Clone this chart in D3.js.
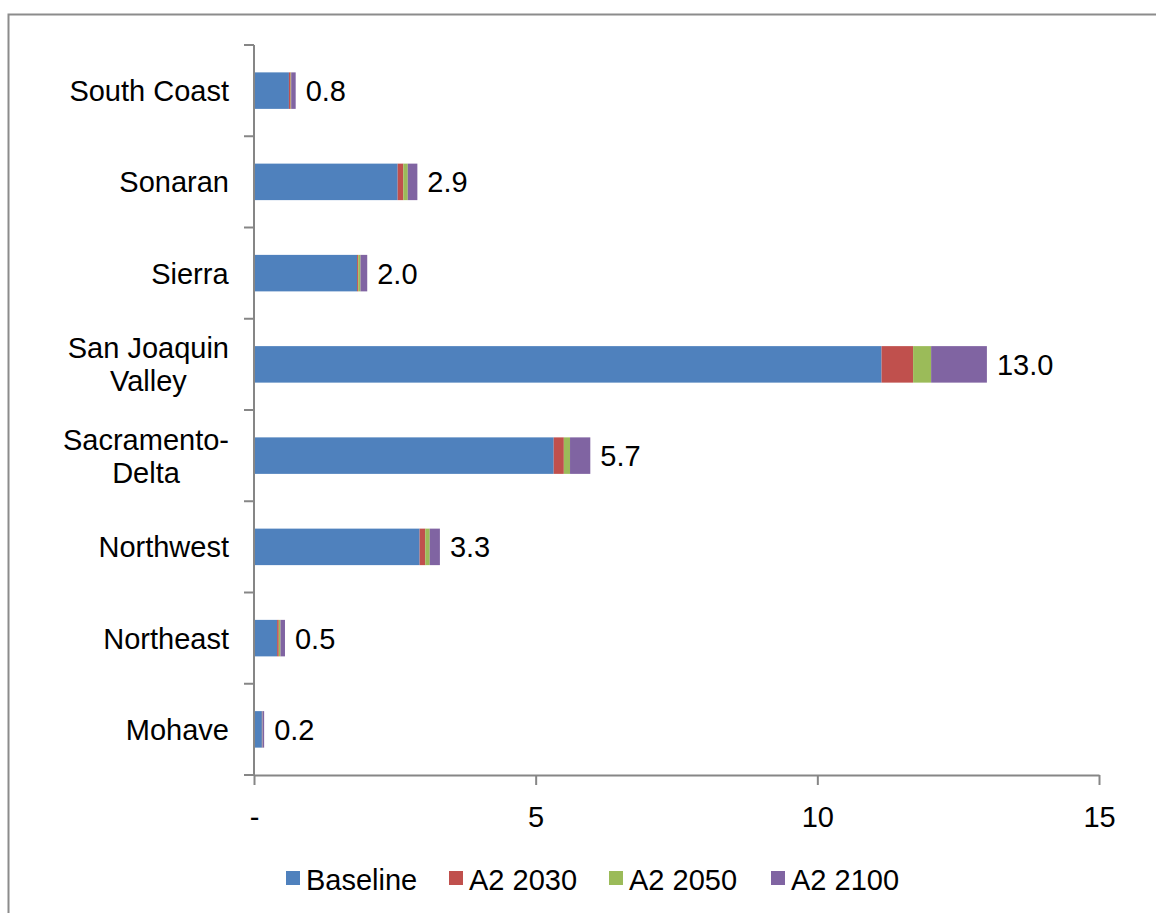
<!DOCTYPE html>
<html>
<head>
<meta charset="utf-8">
<script src="https://cdn.jsdelivr.net/npm/d3@7"></script>
<style>
  html, body { margin: 0; padding: 0; background: #fff; }
  svg { display: block; font-family: "Liberation Sans", Arial, sans-serif; }
</style>
</head>
<body>
<svg id="chart" width="1156" height="913"></svg>
<script>
// Categories (top to bottom as shown)
const categories = ["South Coast", "Sonaran", "Sierra", "San Joaquin Valley", "Sacramento-Delta", "Northwest", "Northeast", "Mohave"];
const categoryLines = [["South Coast"], ["Sonaran"], ["Sierra"], ["San Joaquin", "Valley"], ["Sacramento-", "Delta"], ["Northwest"], ["Northeast"], ["Mohave"]];
const seriesNames = ["Baseline", "A2 2030", "A2 2050", "A2 2100"];
const baseline = [0.62, 2.55, 1.83, 11.14, 5.32, 2.94, 0.41, 0.14];
const a2_2030  = [0.03, 0.10, 0.02, 0.56, 0.18, 0.10, 0.03, 0.005];
const a2_2050  = [0.01, 0.08, 0.04, 0.32, 0.11, 0.08, 0.03, 0.005];
const a2_2100  = [0.08, 0.17, 0.12, 0.99, 0.36, 0.18, 0.08, 0.03];
const totalLabels = ["0.8", "2.9", "2.0", "13.0", "5.7", "3.3", "0.5", "0.2"];
const xTickValues = [0, 5, 10, 15];
const xTickLabels = ["-", "5", "10", "15"];
const colors = ["#4F81BD", "#C0504D", "#9BBB59", "#8064A2"];

(function () {
const svg = d3.select("#chart");
const FS = 29;

// Frame
svg.append("rect")
  .attr("x", 8.5).attr("y", 14.5)
  .attr("width", 1170).attr("height", 920)
  .attr("fill", "none").attr("stroke", "#8c8c8c").attr("stroke-width", 2);

const pLeft = 254, pRight = 1099, pTop = 45, pBottom = 775;

const x = d3.scaleLinear().domain([0, 15]).range([pLeft, pRight]);
const y = d3.scaleBand().domain(categories).range([pTop, pBottom]).paddingInner(0.6).paddingOuter(0.3);

const series = [baseline, a2_2030, a2_2050, a2_2100];
const rows = categories.map((c, i) => {
  const o = { cat: c };
  seriesNames.forEach((s, j) => o[s] = series[j][i]);
  return o;
});
const stacked = d3.stack().keys(seriesNames)(rows);

const axisColor = "#868686";

// Bars
const g = svg.append("g");
stacked.forEach((layer, j) => {
  g.selectAll(null).data(layer).enter().append("rect")
    .attr("x", d => x(d[0]))
    .attr("y", d => y(d.data.cat))
    .attr("width", d => Math.max(0, x(d[1]) - x(d[0])))
    .attr("height", y.bandwidth())
    .attr("fill", colors[j]);
});

// Y axis line and ticks at band boundaries
const step = (pBottom - pTop) / categories.length;
svg.append("line")
  .attr("x1", pLeft).attr("x2", pLeft).attr("y1", pTop).attr("y2", pBottom)
  .attr("stroke", axisColor).attr("stroke-width", 2);
for (let i = 0; i <= categories.length; i++) {
  const yy = pTop + i * step;
  svg.append("line")
    .attr("x1", pLeft - 10).attr("x2", pLeft).attr("y1", yy).attr("y2", yy)
    .attr("stroke", axisColor).attr("stroke-width", 2);
}

// X axis
const xAxis = d3.axisBottom(x).tickValues(xTickValues).tickSize(10).tickSizeOuter(0).tickFormat((d, i) => xTickLabels[i]);
const xg = svg.append("g").attr("transform", `translate(0,${pBottom})`).call(xAxis);
xg.select(".domain").attr("stroke", axisColor).attr("stroke-width", 2);
xg.selectAll(".tick line").attr("stroke", axisColor).attr("stroke-width", 2);
xg.selectAll(".tick text").attr("font-size", FS).attr("fill", "#000").attr("dy", 0).attr("y", 52)
  .attr("font-family", "Liberation Sans, Arial, sans-serif");

// Category labels (multi-line centered, block right-aligned)
categories.forEach((c, i) => {
  const lines = categoryLines[i];
  const cy = y(c) + y.bandwidth() / 2;
  const lh = 33;
  const t = svg.append("text")
    .attr("font-size", FS).attr("fill", "#000");
  lines.forEach((ln, k) => {
    t.append("tspan").attr("x", 0).attr("y", cy + (k - (lines.length - 1) / 2) * lh + 10.5)
      .attr("text-anchor", "middle").text(ln);
  });
  const bb = t.node().getBBox();
  const cx = 229 - bb.width / 2;
  t.selectAll("tspan").attr("x", cx);
});

// Value labels
categories.forEach((c, i) => {
  const total = baseline[i] + a2_2030[i] + a2_2050[i] + a2_2100[i];
  svg.append("text")
    .attr("x", x(total) + 10)
    .attr("y", y(c) + y.bandwidth() / 2 + 10.5)
    .attr("font-size", FS).attr("fill", "#000")
    .text(totalLabels[i]);
});

// Legend
const legendX = [286, 449, 609, 771];
seriesNames.forEach((s, j) => {
  svg.append("rect").attr("x", legendX[j]).attr("y", 871).attr("width", 14).attr("height", 14).attr("fill", colors[j]);
  svg.append("text").attr("x", legendX[j] + 20).attr("y", 890).attr("font-size", FS)
    .attr("fill", "#000").text(s);
});
})();
</script>
</body>
</html>
